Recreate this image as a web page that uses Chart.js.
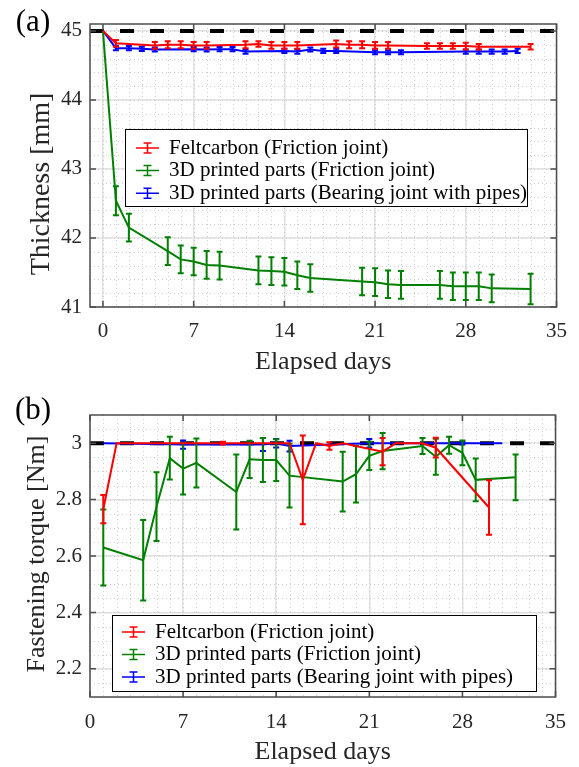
<!DOCTYPE html>
<html>
<head>
  <title>Thickness and fastening torque</title>
  <script src="https://cdn.jsdelivr.net/npm/chart.js"></script>
  <style>
    body {
      margin: 0;
      background: #fff;
    }
    canvas {
      position: absolute;
      left: 0;
    }
    #chartA { top: 0; }
    #chartB { top: 380px; }
  </style>
</head>
<body>
  <canvas id="chartA" width="579" height="375"></canvas>
  <canvas id="chartB" width="579" height="387"></canvas>

  <script>
    // (a) thickness [mm]
    const feltDaysA = [0, 1, 4, 5, 6, 7, 8, 11, 12, 13, 14, 15, 18, 19, 20, 21, 22, 25, 26, 27, 28, 29, 33];
    const feltThick = [45, 44.82, 44.79, 44.80, 44.80, 44.79, 44.79, 44.80, 44.81, 44.79, 44.79, 44.79, 44.81, 44.80, 44.80, 44.79, 44.79, 44.78, 44.78, 44.78, 44.78, 44.77, 44.77];
    const feltThickErr = [0, 0.05, 0.05, 0.05, 0.05, 0.05, 0.05, 0.05, 0.04, 0.05, 0.05, 0.05, 0.05, 0.05, 0.05, 0.05, 0.05, 0.04, 0.04, 0.04, 0.05, 0.04, 0.04];

    const printDaysA = [0, 1, 2, 5, 6, 7, 8, 9, 12, 13, 14, 15, 16, 20, 21, 22, 23, 26, 27, 28, 29, 30, 33];
    const printThick = [45, 42.54, 42.15, 41.81, 41.69, 41.66, 41.61, 41.60, 41.53, 41.52, 41.51, 41.46, 41.42, 41.37, 41.36, 41.33, 41.32, 41.32, 41.30, 41.30, 41.30, 41.27, 41.26];
    const printThickErr = [0, 0.21, 0.2, 0.2, 0.2, 0.2, 0.2, 0.2, 0.2, 0.2, 0.2, 0.2, 0.2, 0.2, 0.2, 0.2, 0.2, 0.2, 0.2, 0.2, 0.2, 0.2, 0.22];

    const pipeDaysA = [0, 1, 2, 3, 4, 7, 8, 9, 10, 11, 14, 15, 16, 17, 18, 21, 22, 23, 28, 29, 30, 31, 32];
    const pipeThick = [45, 44.75, 44.75, 44.74, 44.73, 44.735, 44.73, 44.735, 44.735, 44.70, 44.71, 44.70, 44.73, 44.71, 44.71, 44.69, 44.69, 44.69, 44.70, 44.70, 44.70, 44.70, 44.71];
    const pipeThickErr = [0, 0.03, 0.03, 0.03, 0.03, 0.03, 0.03, 0.03, 0.03, 0.03, 0.03, 0.03, 0.03, 0.03, 0.03, 0.03, 0.03, 0.03, 0.03, 0.03, 0.03, 0.03, 0.03];

    const initialThick = 45;
    const dayTicksA = [0, 7, 14, 21, 28, 35];
    const thickTicks = [41, 42, 43, 44, 45];
    const thickTickLabels = ['41', '42', '43', '44', '45'];

    // (b) fastening torque [Nm]
    const feltDaysB = [1, 2, 5, 7, 10, 14, 15, 16, 17, 18, 19, 22, 23, 25, 26, 30];
    const feltTorque = [2.766, 3.0, 3.0, 3.0, 3.0, 3.0, 3.0, 2.87, 3.0, 2.99, 3.0, 2.97, 3.0, 3.0, 2.984, 2.772];
    const feltTorqueErr = [0.05, 0, 0, 0, 0.005, 0, 0, 0.157, 0, 0.013, 0, 0.048, 0, 0, 0.035, 0.097];

    const printDaysB = [1, 4, 5, 6, 7, 8, 11, 12, 13, 14, 15, 19, 20, 21, 22, 25, 26, 27, 28, 29, 32];
    const printTorque = [2.63, 2.585, 2.775, 2.947, 2.91, 2.93, 2.827, 2.943, 2.94, 2.94, 2.885, 2.864, 2.89, 2.955, 2.972, 2.99, 2.952, 2.993, 2.966, 2.87, 2.879];
    const printTorqueErr = [0.135, 0.143, 0.122, 0.076, 0.092, 0.087, 0.133, 0.066, 0.078, 0.074, 0.113, 0.106, 0.10, 0.05, 0.064, 0.028, 0.064, 0.03, 0.044, 0.076, 0.081];

    const pipeDaysB = [1, 7, 13, 14, 15, 21, 28, 31];
    const pipeTorque = [3.0, 2.995, 2.995, 3.0, 2.99, 3.0, 3.0, 3.0];
    const pipeTorqueErr = [0, 0.015, 0.023, 0.015, 0.019, 0.015, 0.005, 0];

    const targetTorque = 3;
    const dayTicksB = [0, 7, 14, 21, 28, 35];
    const torqueTicks = [2.2, 2.4, 2.6, 2.8, 3];
    const torqueTickLabels = ['2.2', '2.4', '2.6', '2.8', '3'];

    const dayTickLabels = ['0', '7', '14', '21', '28', '35'];

    const seriesNames = [
      'Feltcarbon (Friction joint)',
      '3D printed parts (Friction joint)',
      '3D printed parts (Bearing joint with pipes)'
    ];
    const seriesColors = ['#ff0000', '#008000', '#0000ff'];

    const SERIF = "'Liberation Serif', 'Times New Roman', serif";
    Chart.defaults.font.family = SERIF;
    Chart.defaults.color = '#262626';

    const points = (xs, ys) => xs.map((x, i) => ({ x: x, y: ys[i] }));

    // dotted minor grid between the major ticks
    const minorGrid = {
      id: 'minorGrid',
      beforeDatasetsDraw(chart, args, opts) {
        const { ctx, chartArea: a, scales: { x, y } } = chart;
        ctx.save();
        ctx.strokeStyle = '#cdcdcd';
        ctx.lineWidth = 1;
        ctx.setLineDash([1, 3]);
        ctx.beginPath();
        for (let v = Math.ceil(x.min / opts.xStep) * opts.xStep; v < x.max; v += opts.xStep) {
          const px = Math.round(x.getPixelForValue(v)) + 0.5;
          ctx.moveTo(px, a.top); ctx.lineTo(px, a.bottom);
        }
        for (let k = Math.ceil(y.min / opts.yStep - 1e-6); k * opts.yStep < y.max - 1e-6; k++) {
          const py = Math.round(y.getPixelForValue(k * opts.yStep)) + 0.5;
          ctx.moveTo(a.left, py); ctx.lineTo(a.right, py);
        }
        ctx.stroke();
        ctx.restore();
      }
    };

    // vertical error bars with caps, drawn right after each line
    const errorBars = {
      id: 'errorBars',
      afterDatasetDraw(chart, args) {
        const ds = chart.data.datasets[args.index];
        if (!ds.err) return;
        const { ctx, scales: { x, y } } = chart;
        ctx.save();
        ctx.strokeStyle = ds.borderColor;
        ctx.lineWidth = 2;
        ds.data.forEach((p, i) => {
          const e = ds.err[i];
          if (!e) return;
          const px = x.getPixelForValue(p.x);
          const top = y.getPixelForValue(p.y + e);
          const bot = y.getPixelForValue(p.y - e);
          ctx.beginPath();
          ctx.moveTo(px, top); ctx.lineTo(px, bot);
          ctx.moveTo(px - 3, top); ctx.lineTo(px + 3, top);
          ctx.moveTo(px - 3, bot); ctx.lineTo(px + 3, bot);
          ctx.stroke();
        });
        ctx.restore();
      }
    };

    // box around the plot, inward ticks, panel letter and y title
    const panelFrame = {
      id: 'panelFrame',
      afterDraw(chart, args, opts) {
        const { ctx, chartArea: a, scales: { x, y } } = chart;
        ctx.save();
        ctx.strokeStyle = '#4d4d4d';
        ctx.lineWidth = 1.5;
        ctx.strokeRect(a.left, a.top, a.right - a.left, a.bottom - a.top);
        ctx.beginPath();
        x.ticks.forEach(t => {
          const px = x.getPixelForValue(t.value);
          ctx.moveTo(px, a.bottom); ctx.lineTo(px, a.bottom - 6);
          ctx.moveTo(px, a.top); ctx.lineTo(px, a.top + 6);
        });
        y.ticks.forEach(t => {
          const py = y.getPixelForValue(t.value);
          ctx.moveTo(a.left, py); ctx.lineTo(a.left + 6, py);
          ctx.moveTo(a.right, py); ctx.lineTo(a.right - 6, py);
        });
        ctx.stroke();
        ctx.textAlign = 'center';
        ctx.textBaseline = 'middle';
        ctx.fillStyle = '#000';
        ctx.font = '31px ' + SERIF;
        ctx.fillText(opts.label, opts.labelX, opts.labelY);
        ctx.fillStyle = '#262626';
        ctx.font = opts.yTitleSize + 'px ' + SERIF;
        ctx.translate(opts.yTitleX, opts.yTitleY);
        ctx.rotate(-Math.PI / 2);
        ctx.fillText(opts.yTitle, 0, 0);
        ctx.restore();
      }
    };

    // MATLAB style legend inside the axes
    const boxLegend = {
      id: 'boxLegend',
      afterDraw(chart, args, opts) {
        const ctx = chart.ctx;
        ctx.save();
        ctx.fillStyle = '#fff';
        ctx.fillRect(opts.left, opts.top, opts.width, opts.height);
        ctx.strokeStyle = '#000';
        ctx.lineWidth = 1;
        ctx.strokeRect(opts.left + 0.5, opts.top + 0.5, opts.width, opts.height);
        ctx.font = '21px ' + SERIF;
        ctx.textBaseline = 'middle';
        chart.data.datasets.filter(d => d.label).forEach((ds, i) => {
          const yc = opts.firstRow + i * opts.rowGap;
          const xc = opts.symX + 11.5;
          ctx.strokeStyle = ds.borderColor;
          ctx.lineWidth = 1.5;
          ctx.beginPath();
          ctx.moveTo(opts.symX, yc); ctx.lineTo(opts.symX + 23, yc);
          ctx.moveTo(xc, yc - 5); ctx.lineTo(xc, yc + 5);
          ctx.moveTo(xc - 4, yc - 5); ctx.lineTo(xc + 4, yc - 5);
          ctx.moveTo(xc - 4, yc + 5); ctx.lineTo(xc + 4, yc + 5);
          ctx.stroke();
          ctx.fillStyle = '#000';
          ctx.fillText(ds.label, opts.textX, yc);
        });
        ctx.restore();
      }
    };

    function seriesSet(xsList, ysList, errList, refY, refMin, refMax) {
      const sets = xsList.map((xs, i) => ({
        label: seriesNames[i],
        data: points(xs, ysList[i]),
        err: errList[i],
        borderColor: seriesColors[i],
        backgroundColor: seriesColors[i],
        borderWidth: 2
      }));
      sets.push({
        label: '',
        data: [{ x: refMin, y: refY }, { x: refMax, y: refY }],
        borderColor: '#000',
        borderWidth: 4,
        borderDash: [14, 16]
      });
      return sets;
    }

    function makeChart(id, cfg) {
      return new Chart(document.getElementById(id), {
        type: 'line',
        data: { datasets: cfg.datasets },
        options: {
          responsive: false,
          animation: false,
          layout: { padding: cfg.padding },
          elements: { point: { radius: 0 }, line: { tension: 0 } },
          plugins: {
            legend: { display: false },
            tooltip: { enabled: false },
            minorGrid: cfg.minor,
            panelFrame: cfg.frame,
            boxLegend: cfg.legend
          },
          scales: {
            x: {
              type: 'linear',
              min: cfg.xMin,
              max: cfg.xMax,
              afterBuildTicks: s => { s.ticks = cfg.xTicks.map(v => ({ value: v })); },
              afterFit: s => { s.height = cfg.xHeight; },
              grid: { color: '#e2e2e2', lineWidth: 1.5, drawTicks: false },
              border: { display: false },
              ticks: { font: { size: 21 }, padding: cfg.xTickPad, maxRotation: 0, callback: (v, i) => dayTickLabels[i] },
              title: { display: true, text: 'Elapsed days', font: { size: 26, lineHeight: 1 }, padding: { top: 0, bottom: cfg.xTitlePad } }
            },
            y: {
              min: cfg.yMin,
              max: cfg.yMax,
              afterBuildTicks: s => { s.ticks = cfg.yTicks.map(v => ({ value: v })); },
              afterFit: s => { s.width = 90; },
              grid: { color: '#e2e2e2', lineWidth: 1.5, drawTicks: false },
              border: { display: false },
              ticks: { font: { size: 21 }, padding: 8, callback: (v, i) => cfg.yLabels[i] }
            }
          }
        },
        plugins: [minorGrid, errorBars, panelFrame, boxLegend]
      });
    }

    makeChart('chartA', {
      datasets: seriesSet(
        [feltDaysA, printDaysA, pipeDaysA],
        [feltThick, printThick, pipeThick],
        [feltThickErr, printThickErr, pipeThickErr],
        initialThick, -1, 35),
      padding: { top: 24, right: 22, left: 0, bottom: 0 },
      xMin: -1, xMax: 35, xTicks: dayTicksA, xHeight: 68, xTitlePad: 0, xTickPad: 12,
      yMin: 41, yMax: 45.1, yTicks: thickTicks, yLabels: thickTickLabels,
      minor: { xStep: 1, yStep: 0.2 },
      frame: { label: '(a)', labelX: 33, labelY: 23, yTitle: 'Thickness [mm]', yTitleX: 42, yTitleY: 184, yTitleSize: 28 },
      legend: { left: 125, top: 129, width: 402, height: 77, firstRow: 148, rowGap: 22.6, symX: 136, textX: 169 }
    });

    makeChart('chartB', {
      datasets: seriesSet(
        [feltDaysB, printDaysB, pipeDaysB],
        [feltTorque, printTorque, pipeTorque],
        [feltTorqueErr, printTorqueErr, pipeTorqueErr],
        targetTorque, 0, 35),
      padding: { top: 35, right: 21, left: 0, bottom: 0 },
      xMin: 0, xMax: 35, xTicks: dayTicksB, xHeight: 70, xTitlePad: 2, xTickPad: 13,
      yMin: 2.1, yMax: 3.1, yTicks: torqueTicks, yLabels: torqueTickLabels,
      minor: { xStep: 1, yStep: 0.05 },
      frame: { label: '(b)', labelX: 33, labelY: 31, yTitle: 'Fastening torque [Nm]', yTitleX: 37, yTitleY: 174, yTitleSize: 26 },
      legend: { left: 112, top: 235, width: 424, height: 76, firstRow: 252, rowGap: 22.5, symX: 122, textX: 155 }
    });
  </script>
</body>
</html>
